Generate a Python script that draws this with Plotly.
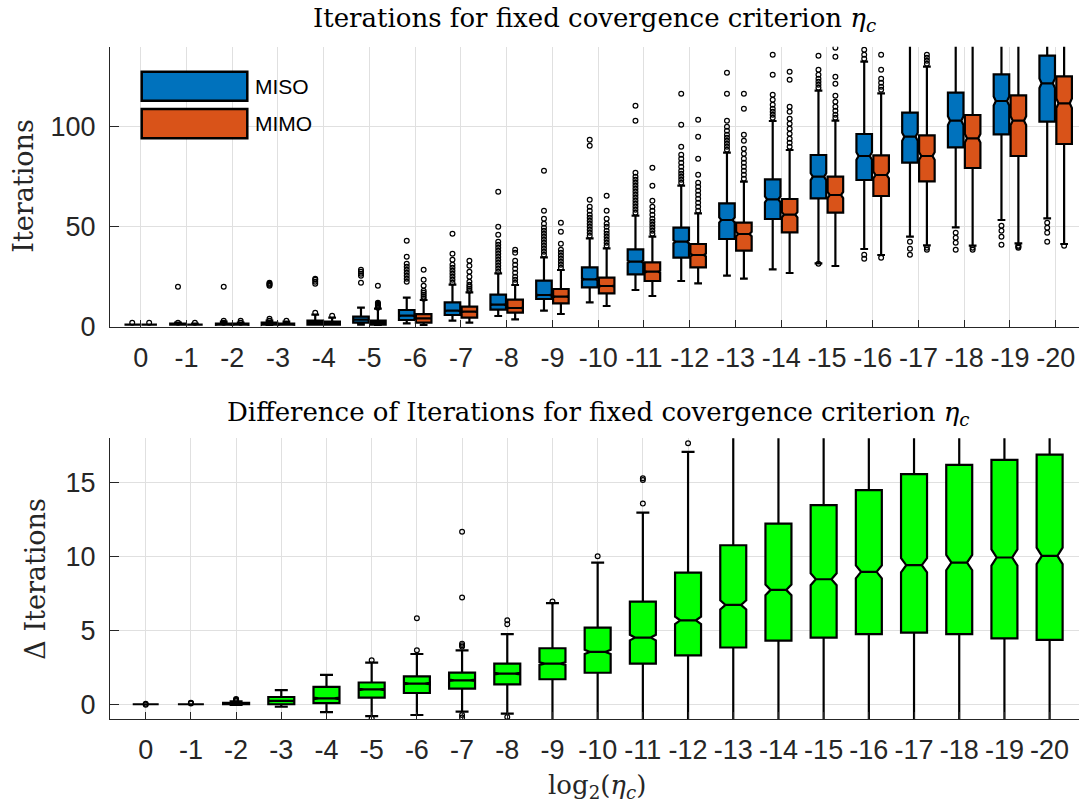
import plotly.graph_objects as go

# ---------------- data ----------------
categories = ["0", "-1", "-2", "-3", "-4", "-5", "-6", "-7", "-8", "-9", "-10",
              "-11", "-12", "-13", "-14", "-15", "-16", "-17", "-18", "-19", "-20"]

# top chart: MISO
miso_q1 = [1, 1, 1, 1, 1, 2, 3.35, 5.85, 8.5, 13.85, 19.7, 26.2, 34.5, 43.85, 53.85, 64.2, 73.35, 82, 89.7, 96.2, 102.5]
miso_med = [1, 1, 1, 1, 2, 3.5, 5.5, 8, 11, 15.85, 23.7, 32.5, 42.5, 53.35, 63.7, 75, 85.35, 95, 103, 112.85, 121.7]
miso_q3 = [1, 1.5, 1.5, 2, 3, 5, 8.35, 12.2, 16, 23, 29.7, 38.7, 49.5, 61.7, 73.7, 85.85, 96.35, 107, 117, 126.2, 135.5]
miso_lo = [1, 1, 1, 1, 1, 1, 1.7, 3, 5.35, 8, 12.2, 18.35, 22.85, 25.5, 28.7, 31.7, 38.85, 45, 49.7, 53.35, 54.2]
miso_hi = [1, 2, 2.5, 3, 6, 9.5, 14.5, 21, 26.7, 34.7, 44.2, 55.5, 70.5, 87, 102.85, 118, 132.5, 150, 160, 170, 180]
miso_notch = [0, 0, 0.03, 0.06, 0.1, 0.15, 0.2, 0.25, 0.3, 0.4, 0.5, 0.6, 0.8, 1.3, 1.5, 1.7, 1.9, 2.0, 2.2, 2.3, 2.4]
miso_out = [
    [2], [2, 20], [2, 3, 20], [3, 4, 20.5, 21, 21.5, 22], [7, 21.5, 22.5, 23.5, 24],
    [22, 25.5, 26.5, 27.5, 28.5],
    [22.5, 24, 25.5, 27, 28.5, 30, 31.5, 35, 43],
    [22, 23.5, 25, 26.5, 28, 29.5, 31, 33.5, 36.5, 46.5],
    [27.5, 29, 30.5, 32, 33.5, 35, 36.5, 38, 39.5, 41, 42.5, 46, 50, 67.5],
    [36, 37.5, 39, 40.5, 42, 43.5, 45, 46.5, 48, 49.5, 51.5, 54, 58, 78],
    [45.5, 47, 48.5, 50, 51.5, 53, 54.5, 56, 58, 60, 63.5, 90.5, 93.5],
    [57, 58.5, 60, 61.5, 63, 64.5, 66, 67.5, 69, 70.5, 72, 73.5, 75, 77, 103, 110.5],
    [72, 73.5, 75, 76.5, 78, 80, 82, 84, 86, 90, 101, 116.5],
    [88.5, 90, 91.5, 93, 94.5, 96, 98, 100, 103, 116.5, 127],
    [104.5, 106, 107.5, 109, 111, 113.5, 116, 126, 136],
    [31.5, 119.5, 121, 122.5, 124, 126, 128.5, 135.5],
    [34, 36, 134, 136, 138.5],
    [36, 39, 42.5],
    [38.5, 42, 44.5, 47],
    [41, 45, 48, 50.5],
    [42.5, 47, 49.5, 52],
]

# top chart: MIMO
mimo_q1 = [1, 1, 1, 1, 1, 1, 2, 4.5, 7, 11.7, 16.7, 22.85, 29.7, 38, 47.2, 57, 65.35, 72.7, 79.35, 85.35, 91.35]
mimo_med = [1, 1, 1, 1, 1.5, 2, 4.2, 7.5, 9.35, 15, 20.35, 27.5, 35.85, 46.35, 56, 65.85, 75.85, 85.35, 94.2, 103, 111.7]
mimo_q3 = [1, 1, 1.5, 1.5, 2.5, 3, 6.3, 10, 13.5, 18.85, 24.5, 32.2, 41.35, 52, 63.85, 75, 85.7, 95.7, 105.85, 115.7, 125.2]
mimo_lo = [1, 1, 1, 1, 1, 0.85, 0.85, 2, 3.7, 6.35, 10.35, 15.35, 21.7, 24, 26.85, 30.35, 35.85, 40.7, 40.5, 41.7, 41.35]
mimo_hi = [1, 1.5, 2, 2.5, 4.5, 9, 13.35, 17.2, 20.85, 28.35, 39.2, 45, 56.7, 72.5, 88.35, 103, 116.7, 130, 145, 150, 160]
mimo_notch = [0, 0, 0.03, 0.03, 0.08, 0.1, 0.15, 0.2, 0.25, 0.3, 0.4, 0.5, 0.7, 1.1, 1.3, 1.5, 1.7, 1.9, 2.1, 2.2, 2.4]
mimo_out = [
    [2], [2], [2, 3], [3], [5.5],
    [9.5, 10, 10.5, 11, 11.5, 12, 20.5],
    [14, 15, 16, 17, 18, 20.5, 23.5, 28.5],
    [18, 19, 20, 21, 22.5, 25, 27.5, 30.5, 33],
    [22, 23.5, 25, 27, 29, 31, 33, 37, 38.5],
    [29.5, 31, 32.5, 34, 35.5, 37, 38.5, 41.5, 47.5, 52],
    [40.5, 42, 43.5, 45, 46.5, 48, 50, 51.5, 54, 58, 65.5],
    [46.5, 48, 49.5, 51, 52.5, 54, 56, 58, 60, 63, 70.5, 79.5],
    [58, 60, 62, 64, 66, 68, 70, 72, 76, 84, 95, 103.5],
    [74, 76, 78, 80, 82, 84, 86.5, 89, 93, 96, 109, 116.5],
    [90, 92, 94, 96.5, 99, 101.5, 104, 107.5, 110, 123.5, 127.5],
    [104.5, 106, 108, 110, 112.5, 115.5, 121.5, 125, 135, 139.5],
    [34.5, 118.5, 120, 122, 124, 128.5, 136],
    [38.5, 39.5, 131.5, 133, 134.5, 136],
    [38.5, 39.5],
    [39.5, 40, 40.5],
    [40.5],
]

# bottom chart: difference
diff_q1 = [0, 0, 0, 0, 0.07, 0.45, 0.76, 1.05, 1.34, 1.69, 2.13, 2.75, 3.31, 3.84, 4.3, 4.51, 4.74, 4.85, 4.74, 4.46, 4.35]
diff_med = [0, 0, 0.02, 0.23, 0.4, 1.0, 1.4, 1.62, 2.07, 2.75, 3.54, 4.51, 5.68, 6.72, 7.74, 8.46, 8.96, 9.41, 9.59, 9.93, 10.04]
diff_q3 = [0, 0, 0.1, 0.49, 1.17, 1.47, 1.89, 2.14, 2.75, 3.79, 5.19, 6.95, 8.91, 10.76, 12.23, 13.47, 14.49, 15.57, 16.2, 16.54, 16.9]
diff_lo = [0, 0, -0.05, -0.17, -0.53, -0.8, -0.73, -0.5, -0.63, -1.8, -2.5, -3.5, -4.5, -6, -7, -8, -9, -10, -11, -12, -13]
diff_hi = [0, 0, 0.2, 0.95, 1.98, 2.82, 3.4, 3.65, 4.75, 6.84, 9.59, 12.97, 17.08, 21, 23, 25, 27, 29, 31, 33, 35]
diff_notch = [0, 0, 0.004, 0.02, 0.05, 0.046, 0.05, 0.05, 0.06, 0.09, 0.14, 0.19, 0.25, 0.31, 0.36, 0.4, 0.44, 0.48, 0.52, 0.55, 0.56]
diff_out = [
    [0.03, -0.03], [0.05, 0.08, 0.1], [0.2, 0.25, 0.3, 0.35], [], [],
    [2.98, -0.95], [3.65, 5.82], [3.9, 4.0, 4.1, 7.22, 11.67, -0.73, -0.9],
    [5.41, 5.68, -0.86], [6.95], [10.02], [13.58, 15.18, 15.3], [17.67],
    [], [], [], [], [], [], [], [],
]

# ---------------- layout constants (pixels) ----------------
W, H = 1079, 807
ML, MR, MT, MB = 110, 0, 46, 88
PW, PH = W - ML - MR, H - MT - MB


def px(x):
    return (x - ML) / PW


def py(y):
    return (H - MB - y) / PH


def clamp(v):
    return max(0.0, min(1.0, v))


TOP_Y0, TOP_Y1 = 326.7, 46.7
BOT_Y0, BOT_Y1 = 719.0, 438.3

BLUE = "#0072BD"
ORANGE = "#D95319"
GREEN = "#00FF00"
AX = "#262626"
GRID = "#e0e0e0"
SANS = "Liberation Sans, Arial, sans-serif"
SERIF = "DejaVu Serif, serif"

OFF = 0.185
idx = list(range(len(categories)))

fig = go.Figure()


def add_box(xs, q1, med, q3, lo, hi, notch, fill, width, nw, xa, ya):
    fig.add_trace(go.Box(
        x=xs, q1=q1, median=med, q3=q3, lowerfence=lo, upperfence=hi,
        notchspan=notch, notched=True, notchwidth=nw,
        width=width, whiskerwidth=0.5, boxpoints=False,
        fillcolor=fill, line=dict(color="black", width=2.2),
        xaxis=xa, yaxis=ya, showlegend=False, hoverinfo="skip",
    ))


def add_out(xs, outs, xa, ya):
    ox, oy = [], []
    for x, vals in zip(xs, outs):
        for v in vals:
            ox.append(x)
            oy.append(v)
    fig.add_trace(go.Scatter(
        x=ox, y=oy, mode="markers", xaxis=xa, yaxis=ya, showlegend=False,
        marker=dict(symbol="circle-open", size=4.8, color="black",
                    line=dict(width=1.2, color="black")),
        hoverinfo="skip",
    ))


x_miso = [i - OFF for i in idx]
x_mimo = [i + OFF for i in idx]
add_box(x_miso, miso_q1, miso_med, miso_q3, miso_lo, miso_hi, miso_notch, BLUE, 0.34, 0.14, "x", "y")
add_box(x_mimo, mimo_q1, mimo_med, mimo_q3, mimo_lo, mimo_hi, mimo_notch, ORANGE, 0.34, 0.14, "x", "y")
add_out(x_miso, miso_out, "x", "y")
add_out(x_mimo, mimo_out, "x", "y")

add_box(idx, diff_q1, diff_med, diff_q3, diff_lo, diff_hi, diff_notch, GREEN, 0.575, 0.2, "x2", "y2")
add_out(idx, diff_out, "x2", "y2")

common_x = dict(
    tickmode="array", tickvals=idx, ticktext=categories,
    showgrid=True, gridcolor=GRID, gridwidth=1,
    showline=True, linecolor=AX, linewidth=1,
    ticks="inside", ticklen=7, tickcolor=AX, tickwidth=1,
    tickfont=dict(family=SANS, size=27, color=AX),
    ticklabelstandoff=7, zeroline=False, automargin=False, fixedrange=True,
)
common_y = dict(
    showgrid=True, gridcolor=GRID, gridwidth=1,
    showline=True, linecolor=AX, linewidth=1,
    ticks="inside", ticklen=9, tickcolor=AX, tickwidth=1,
    tickfont=dict(family=SANS, size=27, color=AX),
    ticklabelstandoff=8, zeroline=False, automargin=False, fixedrange=True,
)

fig.update_layout(
    width=W, height=H, template="none",
    margin=dict(l=ML, r=MR, t=MT, b=MB, pad=0),
    paper_bgcolor="white", plot_bgcolor="white",
    showlegend=False, boxmode="overlay",
    xaxis=dict(common_x, domain=[0, 1], range=[-0.671, 20.51], anchor="y"),
    yaxis=dict(common_y, domain=[clamp(py(TOP_Y0)), clamp(py(TOP_Y1))], range=[0, 140],
               tickvals=[0, 50, 100], anchor="x"),
    xaxis2=dict(common_x, domain=[0, 1], range=[-0.79, 20.65], anchor="y2"),
    yaxis2=dict(common_y, domain=[clamp(py(BOT_Y0)), clamp(py(BOT_Y1))], range=[-1, 18],
                tickvals=[0, 5, 10, 15], anchor="x2"),
)

# legend drawn as patches
leg = [("MISO", BLUE, 71.7, 100.7), ("MIMO", ORANGE, 109.0, 138.3)]
for name, col, y0, y1 in leg:
    fig.add_shape(type="rect", xref="paper", yref="paper",
                  x0=px(141.7), x1=px(247.3), y0=py(y1), y1=py(y0),
                  fillcolor=col, line=dict(color="black", width=2.5))
    fig.add_annotation(text=name, xref="paper", yref="paper",
                       x=px(253), y=py((y0 + y1) / 2), xanchor="left", yanchor="middle",
                       showarrow=False, font=dict(family=SANS, size=21, color="black"))

eta = "<i>η</i><sub><i>c</i></sub>"
fig.add_annotation(text="Iterations for fixed covergence criterion " + eta,
                   xref="paper", yref="paper", x=px(594), y=py(20),
                   xanchor="center", yanchor="middle", showarrow=False,
                   font=dict(family=SERIF, size=26, color="black"))
fig.add_annotation(text="Difference of Iterations for fixed covergence criterion " + eta,
                   xref="paper", yref="paper", x=px(598), y=py(413),
                   xanchor="center", yanchor="middle", showarrow=False,
                   font=dict(family=SERIF, size=26, color="black"))
fig.add_annotation(text="Iterations", xref="paper", yref="paper",
                   x=px(24), y=py(186.7), textangle=-90,
                   xanchor="center", yanchor="middle", showarrow=False,
                   font=dict(family=SERIF, size=27, color=AX))
fig.add_annotation(text="Δ Iterations", xref="paper", yref="paper",
                   x=px(36), y=py(578.7), textangle=-90,
                   xanchor="center", yanchor="middle", showarrow=False,
                   font=dict(family=SERIF, size=27, color=AX))
fig.add_annotation(text="log<sub>2</sub>(" + eta + ")", xref="paper", yref="paper",
                   x=px(597), y=py(786), xanchor="center", yanchor="middle",
                   showarrow=False, font=dict(family=SERIF, size=26, color=AX))

fig.write_html("out.html")
